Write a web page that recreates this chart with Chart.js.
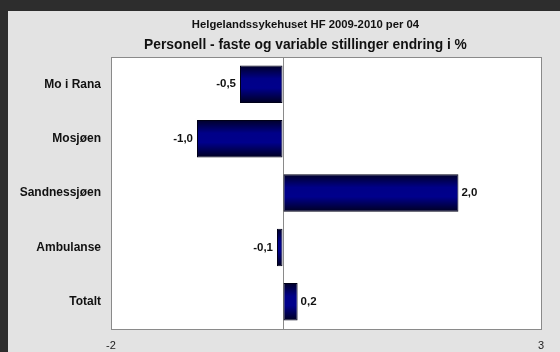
<!DOCTYPE html>
<html><head><meta charset="utf-8">
<script src="https://cdn.jsdelivr.net/npm/chart.js@4/dist/chart.umd.min.js"></script>
<style>
html,body{margin:0;padding:0;background:#2d2d2d;width:560px;height:352px;overflow:hidden}
#wrap{position:absolute;left:8px;top:11px;width:552px;height:341px;background:#e3e3e3}
</style></head><body>
<div id="wrap"><canvas id="c" width="552" height="341"></canvas></div>
<script>
const categories = ["Mo i Rana", "Mosjøen", "Sandnessjøen", "Ambulanse", "Totalt"];
const values = [-0.5, -1.0, 2.04, -0.07, 0.17];
const xTickValues = [-2, 0, 3];
const xLabelValues = [-2, 3];
const titleText = "Helgelandssykehuset HF 2009-2010 per 04";
const subtitleText = "Personell - faste og variable stillinger endring i %";

const FONT = "'Liberation Sans', Arial, sans-serif";
const fmt = v => v.toFixed(1).replace('.', ',');

function barGradient(ctx) {
  const chart = ctx.chart;
  const y = chart.scales && chart.scales.y;
  if (!y || !chart.chartArea || ctx.dataIndex === undefined) return '#000080';
  const cy = y.getPixelForValue(ctx.dataIndex);
  const band = Math.abs(y.getPixelForValue(1) - y.getPixelForValue(0));
  const h = band * 0.69 / 2;
  const g = chart.ctx.createLinearGradient(0, cy - h, 0, cy + h);
  g.addColorStop(0, '#000028');
  g.addColorStop(0.35, '#000088');
  g.addColorStop(0.6, '#00008c');
  g.addColorStop(1, '#000020');
  return g;
}

const areaPlugin = {
  id: 'area',
  afterLayout(chart) {
    chart.boxes.forEach(b => {
      if (b.options && b.options.text !== undefined && b.options.font) {
        b.left += 31; b.right += 31;
      }
    });
  },
  beforeDraw(chart) {
    const {ctx, chartArea: a} = chart;
    ctx.save();
    ctx.fillStyle = '#ffffff';
    ctx.fillRect(a.left, a.top, a.right - a.left, a.bottom - a.top);
    ctx.restore();
  },
  afterDatasetsDraw(chart) {
    const {ctx, chartArea: a} = chart;
    ctx.save();
    ctx.strokeStyle = '#8a8a8a';
    ctx.lineWidth = 1;
    ctx.strokeRect(Math.round(a.left) + 0.5, Math.round(a.top) + 0.5, Math.round(a.right - a.left), Math.round(a.bottom - a.top));
    const meta = chart.getDatasetMeta(0);
    ctx.font = "bold 11.5px " + FONT;
    ctx.fillStyle = '#111';
    ctx.textBaseline = 'middle';
    meta.data.forEach((el, i) => {
      const v = values[i];
      if (v < 0) { ctx.textAlign = 'right'; ctx.fillText(fmt(v), el.x - 4, el.y); }
      else { ctx.textAlign = 'left'; ctx.fillText(fmt(v), el.x + 3, el.y); }
    });
    ctx.restore();
  }
};

new Chart(document.getElementById('c'), {
  type: 'bar',
  data: {
    labels: categories,
    datasets: [{
      data: values,
      backgroundColor: barGradient,
      borderColor: '#000018',
      borderWidth: 1,
      borderSkipped: false,
      barPercentage: 0.69,
      categoryPercentage: 1
    }]
  },
  options: {
    indexAxis: 'y',
    responsive: false,
    animation: false,
    devicePixelRatio: 1,
    layout: {padding: {left: 0, right: 19, top: 1, bottom: 1}},
    plugins: {
      legend: {display: false},
      tooltip: {enabled: false},
      title: {display: true, text: titleText, color: '#111',
        font: {family: FONT, size: 11.3, weight: 'bold'}, padding: {top: 6, bottom: 4}},
      subtitle: {display: true, text: subtitleText, color: '#111',
        font: {family: FONT, size: 13.8, weight: 'bold'}, padding: {top: 1, bottom: 4}}
    },
    scales: {
      x: {
        min: -2, max: 3,
        afterBuildTicks: s => { s.ticks = xTickValues.map(v => ({value: v})); },
        afterFit: s => { s.height = 22; },
        ticks: {
          autoSkip: false, maxRotation: 0, padding: 10, color: '#222',
          font: {family: FONT, size: 11},
          callback: v => xLabelValues.includes(v) ? String(v) : ''
        },
        grid: {drawTicks: false, color: c => (c.tick && c.tick.value === 0) ? '#8a8a8a' : 'rgba(0,0,0,0)'},
        border: {display: false}
      },
      y: {
        afterFit: s => { s.width = 103; },
        ticks: {padding: 10, color: '#111', font: {family: FONT, size: 12, weight: 'bold'}},
        grid: {display: false, drawTicks: false},
        border: {display: false}
      }
    }
  },
  plugins: [areaPlugin]
});
</script>
</body></html>
